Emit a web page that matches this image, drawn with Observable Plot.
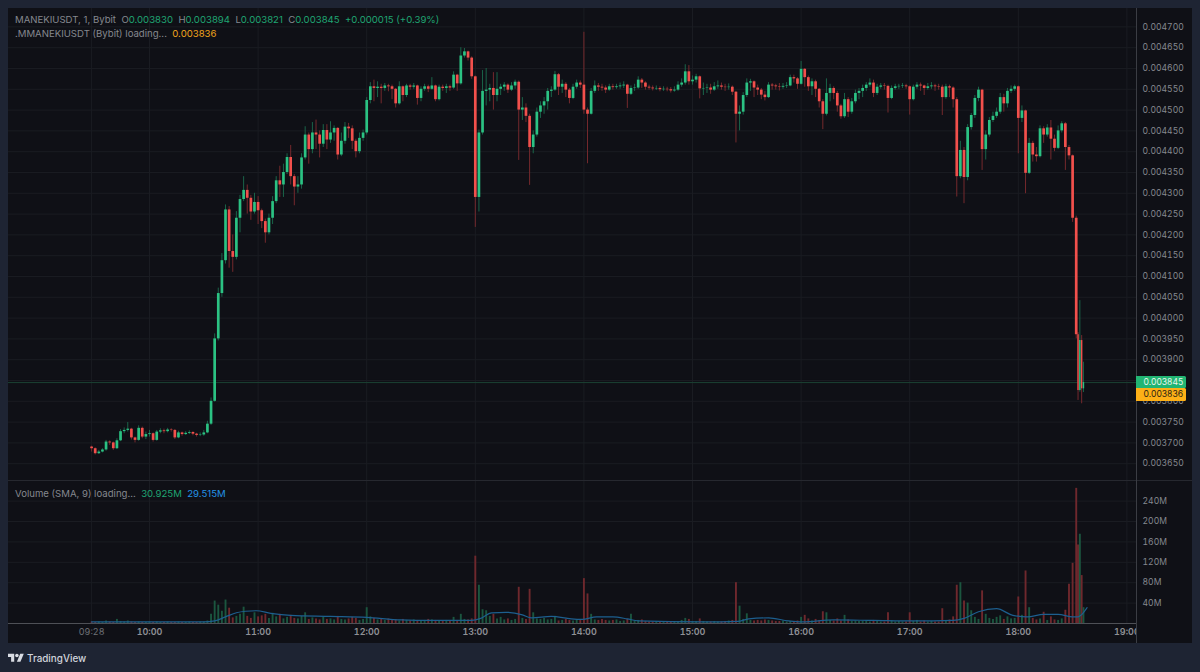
<!DOCTYPE html>
<html><head><meta charset="utf-8">
<script src="https://cdn.jsdelivr.net/npm/d3@7"></script>
<script src="https://cdn.jsdelivr.net/npm/@observablehq/plot@0.6"></script>
<style>
html,body{margin:0;padding:0;background:#1e2433;width:1200px;height:672px;overflow:hidden;font-family:Inter,"Noto Sans",sans-serif;}
#panel{position:absolute;left:8px;top:8px;width:1184px;height:635px;background:#0f1016;}
.pane{position:absolute;left:8px;}
.lg{position:absolute;left:15px;font-size:9.6px;line-height:14px;color:#85888f;white-space:pre;}
.tag{position:absolute;left:1136px;width:50px;height:12.4px;font-size:8.6px;line-height:12.4px;text-indent:7.5px;border-radius:0 1.5px 1.5px 0;}
.line{position:absolute;}
</style></head><body>
<div id="panel"></div>
<div class="pane" id="price" style="top:8px"></div>
<div class="pane" id="volume" style="top:480px"></div>
<div class="line" style="left:8px;top:480px;width:1184px;height:1px;background:#26282f"></div>
<div class="line" style="left:1136px;top:624px;width:56px;height:19px;background:#0f1016"></div>
<div class="line" style="left:1136px;top:8px;width:1px;height:635px;background:#3b3d44"></div>
<div class="lg" style="top:13px">MANEKIUSDT, 1, Bybit  O<span class="g">0.003830</span>  H<span class="g">0.003894</span>  L<span class="g">0.003821</span>  C<span class="g">0.003845</span>  <span class="g">+0.000015 (+0.39%)</span></div>
<div class="lg" style="top:27px">.MMANEKIUSDT (Bybit) loading...  <span style="color:#f0a41c">0.003836</span></div>
<div class="lg" style="top:487px">Volume (SMA, 9) loading...  <span class="g">30.925M</span>  <span style="color:#2393e6">29.515M</span></div>
<div class="tag" style="top:376px;background:#22b573;color:#e8f5ee">0.003845</div>
<div class="tag" style="top:388.4px;background:#fdb017;color:#2a2313">0.003836</div>
<svg style="position:absolute;left:8px;top:652px" width="16" height="12.5" viewBox="0 0 36 28"><path fill="#d9dce3" d="M14 22H7V11H0V4h14v18zM28 22h-8l7.5-18h8L28 22z"/><circle fill="#d9dce3" cx="20" cy="8" r="4"/></svg>
<div style="position:absolute;left:27px;top:650px;font-size:9.9px;line-height:16px;font-weight:500;color:#d1d4dc">TradingView</div>
<script>
document.querySelectorAll(".g").forEach(e=>e.style.color="#1fa572");

// Two-minute candles, prices in millionths of USDT; each candle opens at the previous close
const firstOpen = 3690;
const close = [
3686,3674,3678,3683,3702,3700,3686,3705,3727,3730,
3733,3712,3706,3735,3714,3720,3722,3706,3726,3729,
3727,3731,3730,3712,3724,3720,3723,3725,3721,3718,
3719,3724,3745,3800,3950,4059,4138,4260,4160,4146,
4240,4285,4307,4288,4255,4278,4258,4232,4205,4240,
4280,4330,4320,4350,4386,4340,4315,4320,4385,4440,
4405,4445,4440,4418,4451,4428,4445,4456,4392,4425,
4459,4455,4425,4400,4432,4445,4523,4556,4552,4555,
4552,4558,4556,4550,4515,4556,4535,4558,4555,4558,
4528,4550,4556,4550,4558,4525,4555,4552,4556,4553,
4584,4563,4630,4640,4625,4580,4290,4445,4545,4548,
4552,4535,4550,4555,4560,4548,4558,4567,4500,4505,
4485,4410,4440,4495,4510,4520,4545,4548,4585,4555,
4562,4548,4528,4555,4565,4560,4500,4490,4545,4558,
4555,4553,4548,4556,4554,4556,4558,4560,4538,4552,
4553,4572,4565,4555,4553,4551,4552,4549,4550,4549,
4546,4548,4560,4565,4592,4568,4572,4580,4551,4552,
4553,4548,4556,4558,4555,4554,4555,4543,4490,4495,
4535,4565,4568,4553,4548,4536,4530,4560,4558,4556,
4555,4557,4558,4578,4575,4562,4598,4578,4556,4568,
4550,4520,4490,4540,4552,4540,4510,4484,4525,4495,
4520,4540,4545,4552,4560,4565,4540,4555,4558,4557,
4528,4552,4556,4557,4558,4556,4525,4555,4560,4558,
4552,4556,4558,4556,4555,4530,4556,4553,4525,4340,
4403,4338,4458,4487,4528,4548,4405,4440,4475,4485,
4495,4530,4515,4545,4550,4556,4480,4498,4348,4420,
4392,4388,4455,4440,4457,4430,4408,4450,4467,4410,
4390,4240,3960,3826,3946,3830,3845];
const high = [
3692,3688,3682,3686,3706,3705,3702,3710,3732,3736,
3749,3735,3714,3741,3738,3726,3730,3724,3730,3734,
3733,3735,3734,3732,3728,3726,3727,3729,3727,3723,
3724,3730,3752,3808,3962,4072,4155,4272,4268,4200,
4256,4295,4340,4320,4295,4300,4292,4262,4238,4250,
4292,4340,4365,4370,4395,4415,4345,4340,4395,4460,
4445,4470,4476,4450,4465,4465,4472,4462,4458,4445,
4470,4468,4462,4430,4445,4452,4530,4566,4572,4568,
4562,4564,4562,4560,4552,4568,4558,4562,4562,4564,
4560,4556,4562,4560,4578,4560,4560,4560,4562,4560,
4592,4586,4650,4648,4642,4628,4582,4452,4595,4600,
4562,4590,4590,4562,4566,4563,4566,4572,4570,4530,
4515,4490,4450,4505,4520,4530,4552,4556,4593,4588,
4572,4566,4552,4562,4572,4570,4687,4505,4552,4570,
4564,4562,4558,4562,4562,4562,4565,4568,4562,4558,
4562,4580,4576,4568,4560,4558,4558,4556,4556,4555,
4554,4556,4568,4575,4609,4607,4582,4586,4582,4565,
4562,4562,4566,4570,4565,4562,4563,4558,4545,4510,
4542,4575,4574,4570,4560,4552,4545,4566,4564,4562,
4564,4564,4566,4584,4584,4578,4617,4600,4582,4575,
4572,4552,4525,4575,4562,4556,4545,4514,4540,4530,
4528,4548,4552,4560,4566,4575,4572,4562,4564,4564,
4560,4558,4562,4562,4564,4562,4558,4560,4566,4565,
4560,4564,4566,4562,4562,4560,4562,4560,4556,4530,
4425,4410,4465,4492,4535,4555,4550,4450,4482,4495,
4505,4540,4538,4552,4558,4560,4558,4510,4500,4432,
4425,4410,4462,4460,4465,4475,4440,4462,4472,4470,
4415,4392,4245,3965,4042,3958,3894];
const low = [
3678,3671,3672,3676,3680,3694,3682,3684,3703,3722,
3726,3707,3700,3704,3710,3708,3714,3702,3704,3722,
3722,3724,3726,3708,3710,3716,3718,3720,3717,3714,
3715,3716,3722,3742,3798,3945,4050,4130,4120,4110,
4140,4205,4280,4250,4235,4250,4225,4215,4180,4200,
4225,4275,4290,4290,4345,4320,4270,4300,4310,4380,
4370,4395,4405,4385,4410,4405,4420,4425,4380,4388,
4418,4432,4405,4385,4395,4425,4440,4515,4520,4530,
4515,4545,4544,4525,4505,4512,4520,4530,4548,4550,
4512,4520,4545,4542,4548,4520,4522,4545,4540,4545,
4550,4545,4560,4625,4618,4574,4218,4255,4440,4510,
4520,4500,4520,4535,4545,4540,4545,4550,4379,4475,
4470,4319,4395,4435,4480,4490,4500,4530,4545,4535,
4540,4530,4515,4525,4550,4552,4490,4371,4488,4540,
4545,4545,4540,4545,4548,4550,4550,4552,4504,4535,
4545,4550,4552,4548,4548,4546,4547,4544,4545,4544,
4541,4543,4545,4555,4560,4560,4560,4565,4527,4535,
4540,4538,4545,4550,4548,4545,4548,4535,4421,4450,
4488,4530,4545,4530,4535,4525,4522,4528,4548,4548,
4546,4550,4552,4556,4565,4550,4560,4555,4545,4535,
4530,4505,4453,4486,4520,4525,4495,4478,4480,4482,
4490,4515,4525,4530,4545,4555,4530,4535,4550,4548,
4493,4525,4548,4550,4552,4550,4488,4522,4550,4545,
4535,4548,4550,4545,4548,4487,4526,4530,4505,4291,
4335,4275,4330,4452,4480,4520,4355,4380,4435,4470,
4480,4490,4495,4505,4540,4545,4395,4470,4299,4345,
4375,4375,4385,4420,4435,4380,4400,4405,4445,4355,
4380,4230,3950,3802,3822,3794,3821];
// Volume of each candle, millions
const volume = [
3,2,3,2,5,3,2,8,4,3,
5,3,2,3,2,2,3,2,3,2,
2,3,2,2,3,2,2,3,2,2,
3,3,5,18,44,36,24,46,30,11,
14,18,32,14,10,21,13,15,18,10,
20,13,18,9,12,16,10,9,14,21,
8,11,9,7,12,8,9,7,14,8,
7,9,12,10,6,8,31,13,10,7,
8,6,9,6,7,5,8,6,5,7,
6,5,6,8,7,6,5,5,6,5,
12,6,18,8,7,9,132,75,27,25,
14,18,9,12,7,9,6,8,71,10,
8,67,21,9,8,10,7,8,14,5,
6,8,6,5,7,6,88,58,18,7,
6,8,6,5,6,7,4,5,8,18,
5,6,7,4,3,3,4,3,3,4,
3,3,4,6,10,8,4,4,9,4,
3,3,4,3,3,4,5,6,80,34,
8,19,6,5,6,5,7,6,5,4,
4,5,3,4,4,5,12,16,9,5,
8,6,23,21,6,5,9,5,16,7,
4,5,4,4,5,3,6,4,3,3,
21,5,3,4,3,3,21,4,6,3,
5,3,4,3,3,29,5,7,13,75,
80,44,40,25,12,8,64,18,10,8,
12,15,8,13,9,10,52,16,103,31,
10,7,9,22,6,13,7,6,9,26,
77,118,265,154,175,94,31];
// Volume moving average read at its turning points: minute of day, millions
const smaMinute = [568,630,636,642,648,653,659,667,678,700,720,739,756,778,783,789,797,806,811,822,833,839,847,856,864,870,906,925,931,942,953,961,978,1000,1022,1044,1050,1058,1068,1077,1085,1094,1102,1110,1113,1118];
const smaValue  = [3,3,5,13,21,24,25,20,16,14,12,7,6,6,10,21,22,17,11,14,9,8,13,13,9,5,3,4,9,11,5,3,7,6,5,6,10,23,29,16,13,18,18,13,13,31];

const priceTicks = [3650,3700,3750,3800,3850,3900,3950,4000,4050,4100,4150,4200,4250,4300,4350,4400,4450,4500,4550,4600,4650,4700];
const volumeTicks = [40,80,120,160,200,240];
const hourMinutes = [600,660,720,780,840,900,960,1020,1080,1140];
const hourLabels = ["10:00","11:00","12:00","13:00","14:00","15:00","16:00","17:00","18:00","19:00"];
const startMinute = [568];
const startLabel = ["09:28"];
const lastPrice = 3845;

const UP="#2bc283", DOWN="#f2504c", UPW="#1a6449", DOWNW="#75292d", UPV="#1b563f", DOWNV="#6f282d", GRID="#1a1c22", TXT="#85888f";
const minuteOf = i => i<=272 ? 568+2*i : 1112+(i-272);
const bars = close.map((c,i)=>{
  const o = i ? close[i-1] : firstOpen;
  return {m:minuteOf(i),o,c,h:high[i],l:low[i],v:volume[i],up:c>=o,w:i>272?1.4:2.7};
});
const xScale = {type:"linear",domain:[522.1,1145.3]};
const style = {background:"transparent",fontFamily:"Inter,sans-serif",fontSize:"8.6px",color:TXT};
const vgrid = Plot.ruleX([...startMinute,...hourMinutes],{stroke:GRID});

document.getElementById("price").append(Plot.plot({
  width:1184,height:472,marginLeft:0,marginRight:56,marginTop:0,marginBottom:0,style,
  x:{...xScale,axis:null},
  y:{domain:[3609.6,4744.2]},
  marks:[
    Plot.ruleY(priceTicks,{stroke:GRID}),
    vgrid,
    Plot.ruleY([lastPrice],{stroke:"#1b4033"}),
    Plot.ruleX(bars,{x:"m",y1:"l",y2:"h",stroke:d=>d.up?UPW:DOWNW,strokeWidth:1}),
    Plot.ruleX(bars,{x:"m",y1:"o",y2:"c",stroke:d=>d.up?UP:DOWN,strokeWidth:"w"}),
    Plot.axisY({anchor:"right",ticks:priceTicks,tickSize:0,tickPadding:7,dx:-1,label:null,textAnchor:"start",tickFormat:d=>(d/1e6).toFixed(6),fill:TXT})
  ]
}));

document.getElementById("volume").append(Plot.plot({
  width:1184,height:163,marginLeft:0,marginRight:56,marginTop:0,marginBottom:20,style,
  x:{...xScale,axis:null},
  y:{domain:[0,280.4]},
  marks:[
    Plot.ruleY(volumeTicks,{stroke:GRID}),
    vgrid,
    Plot.ruleX(bars,{x:"m",y1:0,y2:"v",stroke:d=>d.up?UPV:DOWNV,strokeWidth:1.9}),
    Plot.line(smaMinute.map((m,i)=>({m,v:smaValue[i]})),{x:"m",y:"v",stroke:"#1d5f8f",strokeWidth:1.2,curve:"monotone-x"}),
    Plot.axisY({anchor:"right",ticks:volumeTicks,tickSize:0,tickPadding:7,dx:-1,label:null,textAnchor:"start",tickFormat:d=>d+"M",fill:TXT}),
    Plot.axisX({ticks:hourMinutes,tickSize:0,tickPadding:5,label:null,fontSize:9,tickFormat:d=>hourLabels[hourMinutes.indexOf(d)],fontWeight:600,fill:"#8f9196"}),
    Plot.axisX({ticks:startMinute,tickSize:0,tickPadding:5,label:null,fontSize:9,tickFormat:()=>startLabel[0],fill:"#6e7076"}),
    Plot.ruleY([0],{stroke:"#4e5056",strokeWidth:1})
  ]
}));
</script>
</body></html>
